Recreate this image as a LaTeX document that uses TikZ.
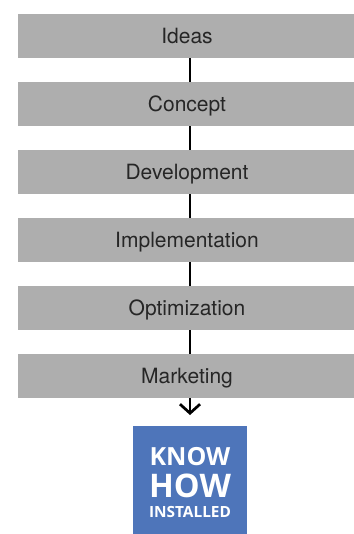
\documentclass[tikz,border=0pt]{standalone}
\usepackage{fontspec}
\setmainfont{TeX Gyre Heros}
\newfontfamily\badgefont{Open Sans}
\usetikzlibrary{arrows.meta}
\definecolor{stagegray}{RGB}{174,174,174}
\definecolor{badgeblue}{RGB}{78,117,186}
\begin{document}
\begin{tikzpicture}
    [
    x=1pt,y=-1pt,
    stage/.style={rectangle,fill=stagegray,inner sep=0pt,minimum width=338pt,minimum height=44pt,text height=15pt,text depth=0pt,font=\fontsize{21}{23}\selectfont,text=black!85},
    badge/.style={rectangle,fill=badgeblue,inner sep=0pt,minimum width=114pt,minimum height=108pt},
    badgetext/.style={text=white,inner sep=0pt,font=\badgefont\bfseries},
    link/.style={draw=black,line width=2.7pt}
    ]
    \useasboundingbox (0,0) rectangle (353,534);
    \node (ideas) at (187,36) [stage] {Ideas};
    \node (concept) at (187,104) [stage] {Concept};
    \node (development) at (187,172) [stage] {Development};
    \node (implementation) at (187,240) [stage] {Implementation};
    \node (optimization) at (187,308) [stage] {Optimization};
    \node (marketing) at (187,376) [stage] {Marketing};
    \node (know) at (190,480) [badge] {};
    \node (knowline) at (190,457) [badgetext,font=\badgefont\bfseries\fontsize{25}{27}\selectfont] {KNOW};
    \node (howline) at (190,486) [badgetext,font=\badgefont\bfseries\fontsize{32.5}{34}\selectfont] {HOW};
    \node (installedline) at (190,511.5) [badgetext,font=\badgefont\bfseries\fontsize{15.4}{17}\selectfont] {INSTALLED};
    \coordinate (tip) at (190,415);
    \draw [link] (ideas.south -| know) to (concept.north -| know);
    \draw [link] (concept.south -| know) to (development.north -| know);
    \draw [link] (development.south -| know) to (implementation.north -| know);
    \draw [link] (implementation.south -| know) to (optimization.north -| know);
    \draw [link] (optimization.south -| know) to (marketing.north -| know);
    \draw [link,-{Straight Barb[length=9pt,width=20pt,line width=2.7pt]}] (marketing.south -| know) to (tip);
\end{tikzpicture}
\end{document}
